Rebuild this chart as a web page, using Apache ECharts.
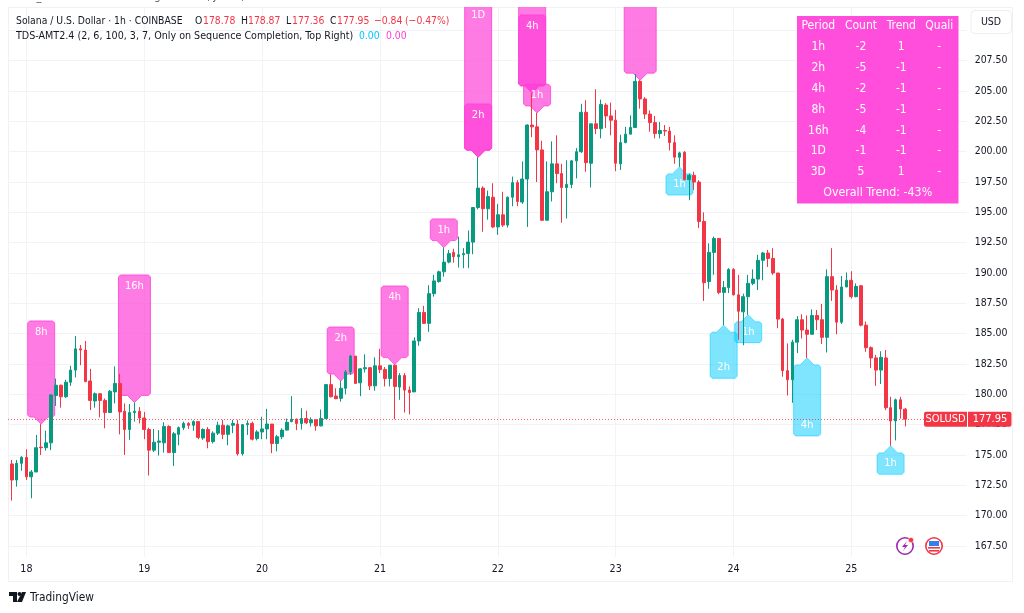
<!DOCTYPE html>
<html><head><meta charset="utf-8">
<style>html,body{margin:0;padding:0;background:#fff}#c{width:1024px;height:613px}</style>
<script src="https://cdn.jsdelivr.net/npm/echarts@6/dist/echarts.min.js"></script>
</head><body><div id="c"></div>
<script>
const opens=[174.26,172.94,174.31,174.8,173.2,173.6,175.65,175.6,176,179.9,180.75,179.8,181,182,183.75,183.65,181.1,179.45,180.05,179.5,178.5,180.2,180.9,178.6,177.1,178.5,178.6,178.05,177.1,175.4,176.05,176,177.35,175.2,176.7,177.25,177.6,177.45,177.75,176.4,177.1,176.1,176.8,177.45,176.7,177.45,177.55,175.1,177.5,177.6,176.35,176.9,177.15,177.55,175.95,176.5,177.05,177.75,177.95,177.6,178,177.65,177.9,177.4,178,180.8,179.86,179.67,180.5,181.85,183.15,180.95,182.1,182.2,180.7,182.35,182.05,181.3,182.4,180.6,181.55,180.35,180.2,184.4,186.75,185.85,188.3,189.3,190.1,190.9,191.7,191.35,191.5,191.6,192.55,195.4,197,195.3,196.25,193.8,194.8,193.95,196.25,197.45,195.85,197.75,202.2,202.05,200.15,194.35,196.7,199,198.2,197.05,197.3,199.25,200,203.25,199.05,202.3,201.9,203.85,202.95,202.6,199,200.75,201.45,202,205.8,204.35,203.1,202.4,201.5,201.75,201.7,200.75,199.55,199.95,197.7,198.05,197.5,194.25,189.3,191.7,192.85,188.4,188.8,190.3,188.2,186.8,188.05,189.15,189.5,191.05,191.65,191.2,190,186.2,181.95,181.2,184.3,186.15,185.3,184.95,186.5,186.15,184.7,189.7,188.6,185.95,188.85,189.4,188.05,188.95,185.7,183.85,183,182,183,178.9,177.8,179.55,178.78];
const closes=[172.94,174.31,174.81,173.2,173.6,175.6,175.6,176,179.95,180.75,179.8,181,182,183.75,183.65,181.05,179.5,180.05,179.5,178.5,180.25,180.9,178.55,177.1,178.5,178.6,178.05,177.1,175.4,176.05,176.15,177.35,175.2,176.75,177.25,177.6,177.45,177.75,176.45,177.1,176.1,176.8,177.45,176.7,177.4,177.6,175.1,177.5,177.6,176.3,176.9,177.15,177.55,175.95,176.5,177.05,177.7,177.95,177.6,178,177.65,177.9,177.4,178,180.8,179.8,179.64,180.5,181.85,183.15,180.9,182.1,182.2,180.7,182.35,182.05,181.3,182.4,180.65,181.55,180.35,180.15,184.4,186.75,185.85,188.3,189.35,190.1,190.9,191.6,191.35,191.5,191.6,192.55,195.4,197,195.3,196.3,193.8,194.8,193.95,196.25,197.45,195.9,197.75,202.2,202.05,200.15,194.35,196.7,199,198.2,197.05,197.3,199.25,200,203.25,199.1,202.3,201.9,203.9,202.95,202.6,199.05,200.75,201.45,202,205.8,204.35,203.1,202.4,201.5,201.75,201.7,200.75,199.55,199.9,197.7,198.05,197.5,194.25,189.2,191.7,192.85,188.4,188.8,190.3,188.2,186.85,188.05,189.15,189.5,191.05,191.65,191.2,190,186.2,181.95,181.2,184.3,186.15,185.3,184.95,186.5,186.15,184.7,189.7,188.6,185.95,188.85,189.4,188.05,188.9,185.7,183.85,183,182,183.05,178.9,177.8,179.55,178.79,177.95];
const highs=[174.59,174.59,174.9,175.47,173.76,176.65,177.55,177,180,181.3,180.8,181.2,182.35,184.8,184.07,184.4,182.1,180.15,180.1,179.65,180.35,182.3,181.7,179.25,179.2,179.33,178.95,178.55,177.25,177.15,177.05,177.7,177.45,176.9,177.35,177.75,177.7,177.85,177.8,177.2,177.3,176.95,177.75,177.9,177.5,177.9,177.9,177.55,177.85,177.75,177.05,178.15,178.8,177.55,176.65,177.2,178,179.85,178,178.85,178.65,178.1,177.9,178.75,180.85,181.65,180.5,181.1,182,183.25,183.15,182.15,183.3,182.2,183.05,183.75,182.25,182.4,182.45,181.75,181.75,180.65,184.7,187.1,187.3,189,189.85,190.2,192.1,191.9,192,193,192.05,193.5,195.4,199.55,197.15,196.8,197.4,195.7,196.7,196.3,197.95,197.65,199.2,202.25,204.85,203.2,200.9,199.2,200.85,201.35,199,199.3,199.3,200.3,203.95,204.25,202.3,205.15,204.3,204,204.05,203.45,201.4,202.05,203,206.4,205.9,204.5,203.4,202.95,202.45,202.2,202.05,201.35,200,200.05,198.2,198.35,197.65,195,192.45,193,192.85,189.35,190.4,190.4,189.85,188.3,189.85,190.3,191.5,191.75,191.9,192.05,190,186.3,184.2,184.5,186.45,186.6,186.5,187,186.95,187.45,190.3,192.05,189,189.75,190.05,190.15,189.15,189,186,183.95,183.25,183.55,183.65,179.8,179.65,179.8,178.87];
const lows=[171.24,172.39,173.7,172.94,171.43,173.6,175,175.36,175.4,179.04,178.9,179.7,180.7,181.4,182.4,181,178.7,178.9,178.1,177.2,178.5,179.25,176.7,175,176.25,177.75,177.6,176.3,173.3,175.25,174.95,175.2,175.2,174.1,175.8,177.05,177.15,177,176.3,176.25,175.55,175.95,176.65,176.3,175.8,176.8,174.95,174.95,176.65,176.2,176.2,176.3,176.3,175.15,175.3,176.3,177.05,177.7,177.05,177.1,177.55,177.35,177,177.35,178,179.75,179.6,179.4,180,181.6,180.85,179.85,181.8,180.35,180.3,181.75,180.65,180.65,177.95,179.55,178.5,178.35,180.2,184,185.8,185.15,188.05,189.2,189.7,190.8,190.85,190.45,190.4,190.4,191.55,195.25,193.4,194.4,193.7,193.15,193.8,193.75,195.5,195.5,195.7,193.8,201.2,197.5,194.3,194.35,195.9,197.4,194.15,194.5,197,197.8,199.9,198.35,197.05,201.45,201.1,201.95,201.35,198.4,198.5,200.7,201.45,202,203.55,202.7,201.65,201.1,201.1,201.3,200.1,199,198.75,197.65,196,196.85,193.7,187.7,188.7,189.85,188.25,185.7,188.35,188.15,184.5,184.05,186.55,189,188.6,189.4,190.5,189.85,185.45,181.45,179.9,179.3,183.4,184.6,183,184.95,185.3,184.15,183.45,187.7,184.95,185.8,188.85,187.9,188,185.6,183.5,182.15,180.7,180.85,178.7,175.75,176.2,178,177.36];
const dayLabels=["18","19","20","21","22","23","24","25"];
const dayBars=[3,27,51,75,99,123,147,171];
const emptyBars=12;
const priceTicks=[167.5,170,172.5,175,177.5,180,182.5,185,187.5,190,192.5,195,197.5,200,202.5,205,207.5,210];
const markerBars=[6,25,67,78,88,95,95,106,106,107,128];
const markerFar=[186.05,189.84,185.55,188.93,194.46,212.18,203.94,213.33,211.27,205.56,214.16];
const markerText=["8h","16h","2h","4h","1h","1D","2h","","4h","1h","16h"];
const lowMarkerBars=[136,145,150,162,179];
const lowMarkerFar=[196.43,181.32,184.26,176.57,173.41];
const lowMarkerText=["1h","2h","1h","4h","1h"];
const tableHead=["Period","Count","Trend","Quali"];
const tablePeriod=["1h","2h","4h","8h","16h","1D","3D"];
const tableCount=["-2","-5","-2","-5","-4","-1","5"];
const tableTrend=["1","-1","-1","-1","-1","-1","1"];
const tableQuali=["-","-","-","-","-","-","-"];
const tableFoot="Overall Trend: -43%";

const FONT='"DejaVu Sans Condensed","DejaVu Sans"', UP='#089981', DOWN='#F23645', TXT='#131722';
const PINK='rgba(255,60,215,0.68)', PINKB='rgba(255,60,215,0.78)';
const CYAN='rgba(0,204,255,0.5)', CYANB='rgba(0,204,255,0.55)';
const n=opens.length;
const cats=[];
for(let i=0;i<n+emptyBars;i++){const k=dayBars.indexOf(i);cats.push(k>=0?dayLabels[k]:'b'+i);}
const candles=opens.map((o,i)=>[o,closes[i],lows[i],highs[i]]);
const tips=markerBars.map((b,i)=>[b,highs[b],markerFar[i],markerText[i],1]).concat(lowMarkerBars.map((b,i)=>[b,lows[b],lowMarkerFar[i],lowMarkerText[i],-1]));
const last=n-1;

function renderMarker(params,api){
  const c=api.coord([api.value(0),api.value(1)]);
  const far=api.coord([api.value(0),api.value(2)])[1];
  const dir=api.value(4);
  const text=tips[params.dataIndex][3];
  const w=text==='16h'?32:27;
  const x=c[0],y=c[1],h=7,hw=w/2,r=2;
  const near=y-dir*h;
  const pts=[[x,y],[x+h,near],[x+hw-r,near],[x+hw,near-dir*r],[x+hw,far+dir*r],[x+hw-r,far],[x-hw+r,far],[x-hw,far+dir*r],[x-hw,near-dir*r],[x-hw+r,near],[x-h,near]];
  const col=dir>0?PINK:CYAN, bor=dir>0?PINKB:CYANB;
  return {type:'group',children:[
    {type:'polygon',shape:{points:pts},style:{fill:col,stroke:bor,lineWidth:1}},
    {type:'text',x:x,y:far+dir*11,style:{text:text,fill:'#fff',font:'11px '+FONT,align:'center',verticalAlign:'middle'}}
  ]};
}
function renderTag(params,api){
  const y=api.coord([0,api.value(0)])[1];
  const ly=Math.round(y)+.5;
  return {type:'group',children:[
    {type:'line',shape:{x1:8,y1:ly,x2:924,y2:ly},style:{stroke:DOWN,lineWidth:1,lineDash:[1,2],opacity:.8}},
    {type:'rect',shape:{x:924,y:y-7.5,width:43,height:15,r:[2,0,0,2]},style:{fill:DOWN}},
    {type:'rect',shape:{x:968,y:y-7.5,width:43.5,height:15,r:[0,2,2,0]},style:{fill:DOWN}},
    {type:'text',x:945.5,y:y,style:{text:'SOLUSD',fill:'#fff',font:'11px '+FONT,align:'center',verticalAlign:'middle'}},
    {type:'text',x:990,y:y,style:{text:closes[last].toFixed(2),fill:'#fff',font:'11px '+FONT,align:'center',verticalAlign:'middle'}}
  ]};
}
function T(x,y,text,fill,font,align){return {type:'text',x,y,z:20,silent:true,style:{text,fill:fill||TXT,font:font||('10.65px '+FONT),align:align||'left',verticalAlign:'middle'}};}

const L1='10.3px '+FONT;
const g=[];
g.push({type:'rect',z:-1,shape:{x:8.5,y:7.5,width:1004,height:574},style:{fill:'none',stroke:'#f0f1f4',lineWidth:1}});
g.push(T(10,-3,'tbrd3_sm created with TradingView.com, Jul 25, 2025 12:06 UTC-5','#555','11px '+FONT));
g.push(T(16,21,'Solana / U.S. Dollar · 1h · COINBASE',TXT,L1));
const fv=v=>v.toFixed(2);
[[195,'O'],[241,'H'],[286,'L'],[330,'C']].forEach(a=>g.push(T(a[0],21,a[1],TXT,L1)));
[[203,opens[last]],[248,highs[last]],[292,lows[last]],[337,closes[last]]].forEach(a=>g.push(T(a[0],21,fv(a[1]),DOWN,L1)));
const chg=closes[last]-closes[last-1];
g.push(T(374,21,'−'+fv(Math.abs(chg)),DOWN,L1));
g.push(T(405,21,'(−'+fv(Math.abs(chg/closes[last-1]*100))+'%)',DOWN,L1));
g.push(T(16,36,'TDS-AMT2.4 (2, 6, 100, 3, 7, Only on Sequence Completion, Top Right)'));
g.push(T(359,36,'0.00','#00c8ff',L1));
g.push(T(386,36,'0.00','#ff3cd7',L1));
g.push({type:'rect',z:15,shape:{x:797,y:16,width:161.5,height:187.5},style:{fill:'#ff4ddc'}});
const colX=[818.3,861,901.3,939.3];
tableHead.forEach((t,i)=>g.push(T(colX[i],26,t,'#fff','12px '+FONT,'center')));
[tablePeriod,tableCount,tableTrend,tableQuali].forEach((col,i)=>col.forEach((t,j)=>g.push(T(colX[i],47.2+j*20.8,t,'#fff','12px '+FONT,'center'))));
g.push(T(877.7,193,tableFoot,'#fff','12.3px '+FONT,'center'));
g.push({type:'rect',z:15,shape:{x:971,y:10.5,width:40.5,height:23,r:4},style:{fill:'#fff',stroke:'#eceef2'}});
g.push(T(991,22,'USD',TXT,'10.5px '+FONT,'center'));
g.push({type:'polygon',z:20,shape:{points:[[9,592],[17,592],[17,602],[13,602],[13,596],[9,596]]},style:{fill:'#131722'}});
g.push({type:'circle',z:20,shape:{cx:19.5,cy:594,r:2},style:{fill:'#131722'}});
g.push({type:'polygon',z:20,shape:{points:[[22,592],[26,592],[22,602],[17,602]]},style:{fill:'#131722'}});
g.push(T(30,597.5,'TradingView',TXT,'11.8px '+FONT));
g.push({type:'circle',z:20,shape:{cx:905,cy:546,r:8.2},style:{fill:'#fff',stroke:'#9c27b0',lineWidth:1.6}});
g.push({type:'polygon',z:21,shape:{points:[[907,541],[902,547],[905,547],[903,551],[908,545],[905,545]]},style:{fill:'#9c27b0'}});
g.push({type:'circle',z:21,shape:{cx:911,cy:540,r:2.6},style:{fill:'#F23645',stroke:'#fff',lineWidth:.5}});
g.push({type:'circle',z:20,shape:{cx:934,cy:546,r:8.2},style:{fill:'#fff',stroke:'#F23645',lineWidth:1.6}});
g.push({type:'rect',z:21,shape:{x:929,y:541,width:10,height:5},style:{fill:'#2f80ed'}});
g.push({type:'rect',z:21,shape:{x:928,y:547,width:12,height:1.6},style:{fill:'#F23645'}});
g.push({type:'rect',z:21,shape:{x:929,y:550,width:10,height:1.6},style:{fill:'#F23645'}});

const yTop=211.93,yBot=166.59;
const chart=echarts.init(document.getElementById('c'),null,{renderer:'canvas'});
chart.setOption({
  animation:false,backgroundColor:'#fff',
  textStyle:{fontFamily:FONT},
  grid:{left:9.25,top:7,width:957.45,height:550,containLabel:false},
  xAxis:{type:'category',data:cats,boundaryGap:true,
    axisLine:{show:false},
    axisTick:{show:false,alignWithLabel:true,interval:(i)=>dayBars.includes(i)},
    axisLabel:{color:TXT,fontSize:10.6,margin:7,fontFamily:FONT,interval:(i)=>dayBars.includes(i)},
    splitLine:{show:true,alignWithLabel:true,interval:(i)=>dayBars.includes(i),lineStyle:{color:'#f2f3f6',width:1}}},
  yAxis:{type:'value',position:'right',min:yBot,max:yTop,scale:true,
    axisLine:{show:false},
    axisTick:{show:false,customValues:priceTicks},
    axisLabel:{color:TXT,fontSize:10.4,margin:8,fontFamily:FONT,customValues:priceTicks,formatter:v=>v.toFixed(2)},
    splitLine:{show:true,lineStyle:{color:'#f2f3f6',width:1}}},
  graphic:g,
  series:[
    {type:'custom',name:'markers',z:2,clip:true,silent:true,renderItem:renderMarker,data:tips.map(t=>[t[0],t[1],t[2],0,t[4]]),encode:{x:0,y:1}},
    {type:'candlestick',name:'SOLUSD',z:3,barWidth:3.2,silent:true,data:candles,
      itemStyle:{color:UP,color0:DOWN,borderColor:UP,borderColor0:DOWN,borderWidth:1}},
    {type:'custom',name:'tag',z:10,clip:false,silent:true,renderItem:renderTag,data:[[closes[last]]],encode:{y:0}}
  ]
});
</script></body></html>
